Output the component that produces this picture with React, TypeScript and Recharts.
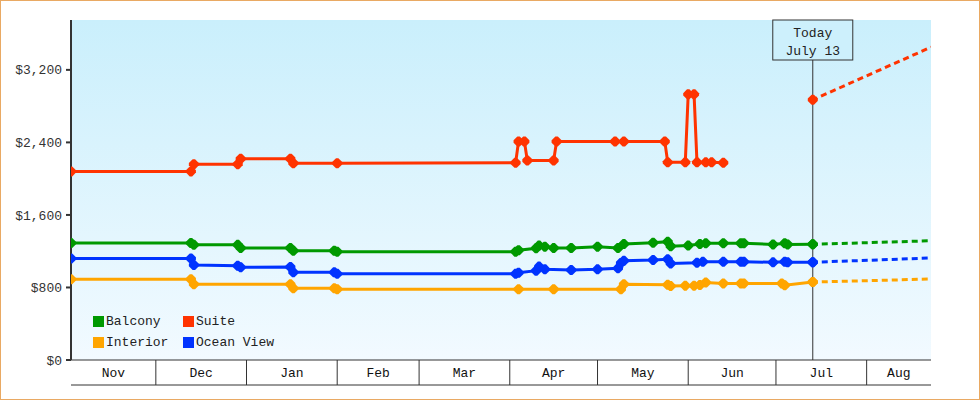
import { CartesianGrid, Line, LineChart, ReferenceLine, XAxis, YAxis } from "recharts";

const START = "2024-11-02";
const END = "2025-08-23";
const TODAY = "2025-07-13T14:00:00Z";

const monthLabels = ["Nov", "Dec", "Jan", "Feb", "Mar", "Apr", "May", "Jun", "Jul", "Aug"];
const monthStarts = [
  "2024-11-01", "2024-12-01", "2025-01-01", "2025-02-01", "2025-03-01",
  "2025-04-01", "2025-05-01", "2025-06-01", "2025-07-01", "2025-08-01", "2025-09-01",
];

const priceTicks = [0, 800, 1600, 2400, 3200];

const seriesNames = ["Balcony", "Suite", "Interior", "Ocean View"];
const seriesColors = ["#009900", "#ff3300", "#ffa500", "#0033ff"];
const todayPrices = [1276, 2870, 860, 1078];
const projectedPrices = [1315, 3450, 893, 1125];

const balconyDates = [
  "2024-11-02", "2024-12-13", "2024-12-14", "2024-12-29", "2024-12-30", "2025-01-16", "2025-01-17",
  "2025-01-31", "2025-02-01", "2025-04-03", "2025-04-04", "2025-04-10", "2025-04-11", "2025-04-13",
  "2025-04-16", "2025-04-22", "2025-05-01", "2025-05-08", "2025-05-10", "2025-05-20", "2025-05-25",
  "2025-05-26", "2025-06-01", "2025-06-05", "2025-06-07", "2025-06-13", "2025-06-19", "2025-06-20",
  "2025-06-30", "2025-07-04", "2025-07-05", TODAY,
];
const balconyPrices = [
  1290, 1290, 1270, 1270, 1235, 1235, 1205, 1205, 1195, 1195, 1210, 1232, 1262, 1250, 1235, 1235,
  1250, 1235, 1280, 1294, 1305, 1255, 1262, 1280, 1287, 1287, 1287, 1287, 1275, 1287, 1275, 1276,
];

const suiteDates = [
  "2024-11-02", "2024-12-13", "2024-12-14", "2024-12-29", "2024-12-30", "2025-01-16", "2025-01-17",
  "2025-02-01", "2025-04-03", "2025-04-04", "2025-04-06", "2025-04-07", "2025-04-16", "2025-04-17",
  "2025-05-07", "2025-05-10", "2025-05-24", "2025-05-25", "2025-05-31", "2025-06-01", "2025-06-03",
  "2025-06-04", "2025-06-07", "2025-06-09", "2025-06-13",
];
const suitePrices = [
  2080, 2080, 2160, 2160, 2220, 2220, 2170, 2170, 2175, 2410, 2410, 2200, 2200, 2410, 2410, 2410,
  2410, 2180, 2180, 2930, 2930, 2180, 2180, 2180, 2175,
];

const interiorDates = [
  "2024-11-02", "2024-12-13", "2024-12-14", "2025-01-16", "2025-01-17", "2025-01-31", "2025-02-01",
  "2025-04-04", "2025-04-16", "2025-05-09", "2025-05-10", "2025-05-25", "2025-05-26", "2025-05-31",
  "2025-06-03", "2025-06-05", "2025-06-07", "2025-06-13", "2025-06-19", "2025-06-20", "2025-07-03",
  "2025-07-04", TODAY,
];
const interiorPrices = [
  890, 890, 835, 835, 790, 790, 780, 780, 780, 780, 835, 830, 815, 820, 820, 827, 855, 845, 845,
  845, 845, 825, 860,
];

const oceanDates = [
  "2024-11-02", "2024-12-13", "2024-12-14", "2024-12-29", "2024-12-30", "2025-01-16", "2025-01-17",
  "2025-01-31", "2025-02-01", "2025-04-03", "2025-04-04", "2025-04-10", "2025-04-11", "2025-04-13",
  "2025-04-22", "2025-05-01", "2025-05-08", "2025-05-09", "2025-05-10", "2025-05-20", "2025-05-25",
  "2025-05-26", "2025-06-04", "2025-06-06", "2025-06-13", "2025-06-19", "2025-06-20", "2025-06-30",
  "2025-07-04", "2025-07-05", TODAY,
];
const oceanPrices = [
  1120, 1120, 1048, 1040, 1022, 1025, 967, 967, 950, 950, 963, 985, 1030, 1000, 993, 1000, 1011,
  1070, 1095, 1103, 1112, 1064, 1073, 1084, 1084, 1084, 1084, 1077, 1084, 1077, 1078,
];

const ORIGIN = Date.parse("2024-11-01");
const day = (d: string) => (Date.parse(d) - ORIGIN) / 86400000;

const toPoints = (dates: string[], prices: number[]) =>
  dates.map((d, i) => ({ day: day(d), price: prices[i] }));

const seriesPoints = [
  toPoints(balconyDates, balconyPrices),
  toPoints(suiteDates, suitePrices),
  toPoints(interiorDates, interiorPrices),
  toPoints(oceanDates, oceanPrices),
];

const domain = [day(START), day(END)];
const boundaries = monthStarts.map(day).filter((d) => d > domain[0] && d < domain[1]);
const monthMids = monthLabels.map((_, i) => {
  const a = Math.max(day(monthStarts[i]), domain[0]);
  const b = Math.min(day(monthStarts[i + 1]), domain[1]);
  return (a + b) / 2;
});

const FONT = "'Liberation Mono', 'DejaVu Sans Mono', monospace";

function Diamond(props: any) {
  const { cx, cy, stroke } = props;
  if (cx == null || cy == null) return <g />;
  const r = 5;
  const t = 1.2;
  const pts = [
    [r, t], [t, r], [-t, r], [-r, t], [-r, -t], [-t, -r], [t, -r], [r, -t],
  ]
    .map(([dx, dy]) => `${cx + dx},${cy + dy}`)
    .join(" ");
  return <polygon points={pts} fill={stroke} />;
}

function TodayLabel(props: any) {
  const { x, y } = props.viewBox;
  return (
    <g>
      <rect x={x - 40} y={y} width={80} height={40} fill="#cdf0fc" stroke="#333" strokeWidth={1} />
      <text x={x} y={y + 17} textAnchor="middle" fontSize={13} fontFamily={FONT} fill="#222">
        Today
      </text>
      <text x={x} y={y + 35} textAnchor="middle" fontSize={13} fontFamily={FONT} fill="#222">
        July 13
      </text>
    </g>
  );
}

export default function App() {
  return (
    <div style={{ position: "absolute", left: 0, top: 0, width: 980, height: 400 }}>
      <LineChart
        width={980}
        height={400}
        margin={{ top: 20, right: 49, left: 0, bottom: 14 }}
        style={{ fontFamily: FONT }}
      >
        <defs>
          <linearGradient id="plotBg" x1="0" y1="0" x2="0" y2="1">
            <stop offset="0" stopColor="#caeffc" />
            <stop offset="1" stopColor="#f2faff" />
          </linearGradient>
        </defs>
        <CartesianGrid horizontal={false} vertical={false} fill="url(#plotBg)" stroke="none" />
        {/* month separators: top line at the plot bottom, ticks run down through the band */}
        <XAxis
          type="number"
          dataKey="day"
          domain={domain}
          allowDataOverflow
          ticks={boundaries}
          interval={0}
          tickSize={25}
          tickFormatter={() => ""}
          tickLine={{ stroke: "#333", strokeWidth: 1 }}
          axisLine={{ stroke: "#333", strokeWidth: 1 }}
          height={25}
        />
        {/* month names, with the band's bottom line as axis line */}
        <XAxis
          xAxisId="labels"
          type="number"
          dataKey="day"
          domain={domain}
          allowDataOverflow
          ticks={monthMids}
          interval={0}
          tickFormatter={(v) => monthLabels[monthMids.indexOf(v)] ?? ""}
          tickLine={false}
          tickSize={0}
          tickMargin={0}
          axisLine={{ stroke: "#333", strokeWidth: 1 }}
          tick={{ fontSize: 13, fill: "#111", dy: -17 }}
          height={1}
        />
        <YAxis
          type="number"
          domain={[0, 3750]}
          ticks={priceTicks}
          width={71}
          tickSize={5}
          tickMargin={4}
          tickFormatter={(v) => "$" + v.toLocaleString("en-US")}
          axisLine={{ stroke: "#333", strokeWidth: 2 }}
          tickLine={{ stroke: "#333", strokeWidth: 2 }}
          tick={{ fontSize: 13, fill: "#333" }}
        />
        <ReferenceLine x={day(TODAY)} stroke="#333" strokeWidth={1} label={<TodayLabel />} />
        {seriesPoints.map((pts, i) => (
          <Line
            key={seriesNames[i]}
            data={pts}
            dataKey="price"
            name={seriesNames[i]}
            type="linear"
            stroke={seriesColors[i]}
            strokeWidth={3}
            dot={(p: any) => <Diamond key={p.key ?? p.index} {...p} />}
            activeDot={false}
            isAnimationActive={false}
          />
        ))}
        {seriesNames.map((name, i) => (
          <Line
            key={name + "-proj"}
            xAxisId="labels"
            data={[
              { day: day(TODAY), price: todayPrices[i] },
              { day: day(END), price: projectedPrices[i] },
            ]}
            dataKey="price"
            type="linear"
            stroke={seriesColors[i]}
            strokeWidth={3}
            strokeDasharray="6 4"
            strokeDashoffset={1}
            dot={(p: any) =>
              p.index === 0 ? <Diamond key={p.key ?? p.index} {...p} /> : <g key={p.key ?? p.index} />
            }
            activeDot={false}
            legendType="none"
            isAnimationActive={false}
          />
        ))}
      </LineChart>
      <div
        style={{
          position: "absolute",
          left: 93,
          top: 311,
          display: "grid",
          gridTemplateColumns: "90px 110px",
          gridAutoRows: "21px",
          fontFamily: FONT,
          fontSize: 13,
          color: "#222",
        }}
      >
        {seriesNames.map((name, i) => (
          <div key={name} style={{ display: "flex", alignItems: "center", whiteSpace: "nowrap" }}>
            <span
              style={{
                display: "inline-block",
                width: 11,
                height: 11,
                background: seriesColors[i],
                marginRight: 2,
              }}
            />
            {name}
          </div>
        ))}
      </div>
      <div
        style={{
          position: "absolute",
          inset: 0,
          border: "1px solid #e9a963",
          pointerEvents: "none",
        }}
      />
    </div>
  );
}
